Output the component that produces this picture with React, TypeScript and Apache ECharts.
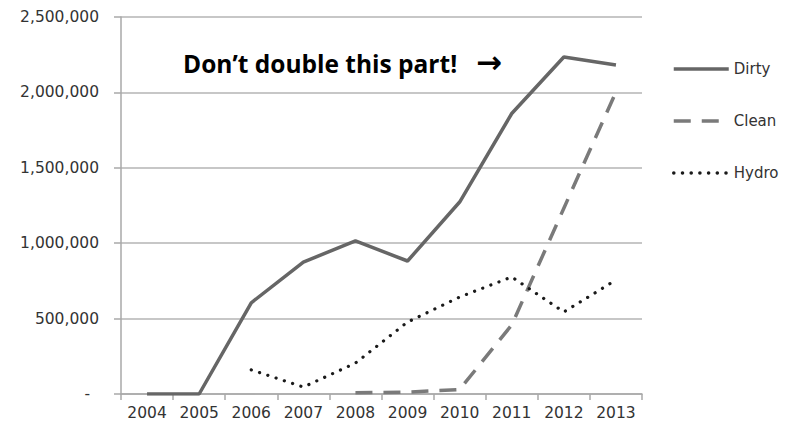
import React, { useEffect, useRef } from "react";
import * as echarts from "echarts";

const years = ["2004", "2005", "2006", "2007", "2008", "2009", "2010", "2011", "2012", "2013"];
const dirty = [0, 0, 605000, 875000, 1015000, 882000, 1273000, 1860000, 2235000, 2182000];
const clean = [null, null, null, null, 8000, 12000, 30000, 458000, 1232000, 2003000];
const hydro = [null, null, 160000, 46000, 205000, 477000, 643000, 776000, 544000, 756000];
const yTicks = { min: 0, max: 2500000, interval: 500000 };
const annotation = "Don\u2019t double this part!";
const arrow = "\u2192";

export default function App() {
  const ref = useRef<HTMLDivElement>(null);
  useEffect(() => {
    if (!ref.current) return;
    const chart = echarts.init(ref.current, null, { renderer: "svg" });
    const font = "DejaVu Sans";
    chart.setOption({
      animation: false,
      backgroundColor: "#ffffff",
      grid: { left: 121, right: 152, top: 17, bottom: 37 },
      legend: {
        orient: "vertical",
        left: 672,
        top: 61,
        padding: 0,
        itemWidth: 55,
        itemHeight: 20,
        itemGap: 36,
        lineStyle: { width: 3.5 },
        itemStyle: { opacity: 0 },
        textStyle: { fontFamily: font, fontSize: 15, color: "#333333" },
        data: ["Dirty", "Clean", "Hydro"],
      },
      xAxis: {
        type: "category",
        data: years,
        boundaryGap: true,
        axisLine: { lineStyle: { color: "#a8a8a8", width: 1.5 } },
        axisTick: { show: true, length: 6, lineStyle: { color: "#a8a8a8", width: 1.5 } },
        axisLabel: { fontFamily: font, fontSize: 15.5, color: "#333333", margin: 11 },
      },
      yAxis: {
        type: "value",
        min: yTicks.min,
        max: yTicks.max,
        interval: yTicks.interval,
        axisLine: { show: true, lineStyle: { color: "#a8a8a8", width: 1.5 } },
        axisTick: { show: true, length: 7, lineStyle: { color: "#a8a8a8", width: 1.5 } },
        splitLine: { show: true, lineStyle: { color: "#b4b4b4", width: 1.5 } },
        axisLabel: {
          fontFamily: font,
          fontSize: 15.5,
          color: "#333333",
          margin: 22,
          formatter: (v: number) => (v === 0 ? "{d|-}" : v.toLocaleString("en-US")),
          rich: { d: { fontFamily: font, fontSize: 15.5, color: "#333333", padding: [0, 9, 0, 0] } },
        },
      },
      series: [
        {
          name: "Dirty",
          type: "line",
          data: dirty,
          symbol: "none",
          lineStyle: { color: "#666666", width: 3.5, type: "solid" },
          itemStyle: { color: "#666666" },
        },
        {
          name: "Clean",
          type: "line",
          data: clean,
          symbol: "none",
          lineStyle: { color: "#7a7a7a", width: 3.5, type: [17, 11] },
          itemStyle: { color: "#7a7a7a" },
        },
        {
          name: "Hydro",
          type: "line",
          data: hydro,
          symbol: "none",
          lineStyle: { color: "#1a1a1a", width: 3.2, type: [0.1, 8.6], cap: "round" },
          itemStyle: { color: "#1a1a1a" },
        },
      ],
      graphic: [
        {
          type: "text",
          x: 183,
          y: 63,
          style: {
            text: annotation,
            fontFamily: "Open Sans",
            fontWeight: "bold",
            fontSize: 24.5,
            fill: "#000000",
            verticalAlign: "middle",
          },
        },
        {
          type: "text",
          x: 476,
          y: 62,
          style: {
            text: arrow,
            fontFamily: "DejaVu Sans",
            fontWeight: "bold",
            fontSize: 31,
            fill: "#000000",
            verticalAlign: "middle",
          },
        },
      ],
    });
    return () => chart.dispose();
  }, []);
  return <div ref={ref} style={{ width: 794, height: 431, position: "absolute", left: 0, top: 0 }} />;
}
